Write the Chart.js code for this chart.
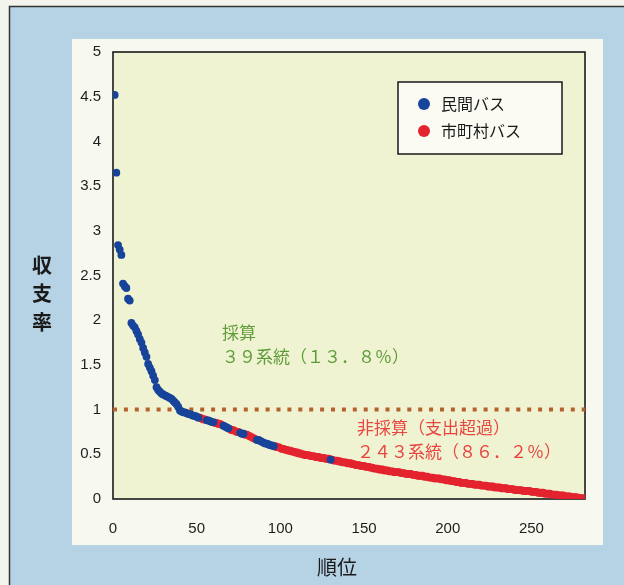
<!DOCTYPE html>
<html><head><meta charset="utf-8">
<script src="https://cdn.jsdelivr.net/npm/chart.js@4/dist/chart.umd.min.js"></script>
<style>html,body{margin:0;padding:0;background:#f4f4ee;}canvas{display:block;}</style>
</head><body>
<canvas id="c" width="624" height="585"></canvas>
<script>
// ---- data ----
const seriesNames = ['民間バス', '市町村バス'];
const xTicks = [0, 50, 100, 150, 200, 250];
const yTicks = [0, 0.5, 1, 1.5, 2, 2.5, 3, 3.5, 4, 4.5, 5];
// 収支率 by rank 1..282
const rankValues = [
 4.52,3.65,2.84,2.79,2.73,2.41,2.38,2.36,2.24,2.22,
 1.97,1.94,1.92,1.88,1.84,1.79,1.75,1.69,1.64,1.59,
 1.51,1.47,1.43,1.38,1.33,1.25,1.22,1.20,1.18,1.17,
 1.16,1.15,1.14,1.13,1.12,1.10,1.08,1.06,1.03,0.99,
 0.98,0.97,0.97,0.96,0.95,0.95,0.94,0.93,0.93,0.92,
 0.91,0.91,0.90,0.89,0.89,0.88,0.88,0.87,0.86,0.86,
 0.85,0.85,0.84,0.84,0.83,0.82,0.81,0.80,0.79,0.78,
 0.77,0.77,0.76,0.75,0.75,0.74,0.73,0.73,0.72,0.72,
 0.71,0.70,0.69,0.68,0.67,0.66,0.66,0.65,0.64,0.63,
 0.62,0.62,0.61,0.60,0.60,0.59,0.59,0.58,0.58,0.57,
 0.56,0.56,0.55,0.55,0.54,0.54,0.53,0.53,0.52,0.52,
 0.51,0.51,0.50,0.50,0.49,0.49,0.49,0.48,0.48,0.48,
 0.47,0.47,0.47,0.46,0.46,0.46,0.45,0.45,0.45,0.44,
 0.44,0.43,0.43,0.43,0.42,0.42,0.41,0.41,0.41,0.40,
 0.40,0.40,0.39,0.39,0.38,0.38,0.38,0.37,0.37,0.37,
 0.36,0.36,0.36,0.35,0.35,0.34,0.34,0.34,0.33,0.33,
 0.33,0.32,0.32,0.32,0.31,0.31,0.31,0.30,0.30,0.30,
 0.30,0.29,0.29,0.29,0.28,0.28,0.28,0.28,0.27,0.27,
 0.27,0.26,0.26,0.26,0.26,0.25,0.25,0.25,0.24,0.24,
 0.24,0.23,0.23,0.23,0.23,0.22,0.22,0.22,0.21,0.21,
 0.21,0.20,0.20,0.20,0.19,0.19,0.19,0.18,0.18,0.18,
 0.18,0.17,0.17,0.17,0.17,0.16,0.16,0.16,0.16,0.15,
 0.15,0.15,0.15,0.14,0.14,0.14,0.14,0.13,0.13,0.13,
 0.13,0.12,0.12,0.12,0.12,0.11,0.11,0.11,0.11,0.10,
 0.10,0.10,0.10,0.10,0.09,0.09,0.09,0.09,0.09,0.08,
 0.08,0.08,0.08,0.07,0.07,0.07,0.07,0.06,0.06,0.06,
 0.06,0.05,0.05,0.05,0.05,0.04,0.04,0.04,0.04,0.03,
 0.03,0.03,0.03,0.02,0.02,0.02,0.02,0.01,0.01,0.01,0.01,0.00
];
// ranks operated by private companies (民間バス); all others are 市町村バス
const privateRanks = [
 1,2,3,4,5,6,7,8,9,10,11,12,13,14,15,16,17,18,19,20,
 21,22,23,24,25,26,27,28,29,30,31,32,33,34,35,36,37,38,39,40,
 41,42,43,44,45,46,47,48,49,50,51,
 56,57,58,59,60,
 66,67,68,69,
 76,77,78,
 86,87,88,89,90,91,92,93,94,95,96,
 130
];
const breakEven = 1;

// ---- build datasets ----
const privSet = new Set(privateRanks);
const privPts = [], muniPts = [];
rankValues.forEach((v, i) => {
  const r = i + 1;
  (privSet.has(r) ? privPts : muniPts).push({x: r, y: v});
});

const BLUE = '#17449a', RED = '#e3232f';
const tickFont = {family: "'Liberation Sans Narrow','Liberation Sans',Arial,sans-serif", size: 15};

const decor = {
  id: 'decor',
  beforeDraw(chart) {
    const ctx = chart.ctx, a = chart.chartArea;
    ctx.save();
    ctx.fillStyle = '#f4f4ee';
    ctx.fillRect(0, 0, 624, 585);
    ctx.fillStyle = '#b6d3e5';
    ctx.fillRect(9, 6, 615, 579);
    ctx.strokeStyle = '#333';
    ctx.lineWidth = 1.5;
    ctx.beginPath();
    ctx.moveTo(9.5, 585); ctx.lineTo(9.5, 6.5); ctx.lineTo(624, 6.5);
    ctx.stroke();
    ctx.fillStyle = '#f7f8f0';
    ctx.fillRect(72, 39, 531, 506);
    ctx.fillStyle = '#f0f3d2';
    ctx.fillRect(a.left, a.top, a.right - a.left, a.bottom - a.top);
    ctx.restore();
  },
  beforeDatasetsDraw(chart) {
    const ctx = chart.ctx, a = chart.chartArea;
    const ys = chart.scales.y;
    ctx.save();
    // plot frame
    ctx.strokeStyle = '#1a1a1a';
    ctx.lineWidth = 1.6;
    ctx.strokeRect(a.left, a.top, a.right - a.left, a.bottom - a.top);
    // break-even dotted line
    const yb = ys.getPixelForValue(breakEven);
    ctx.strokeStyle = '#b5612b';
    ctx.lineWidth = 4;
    ctx.setLineDash([4, 6.9]);
    ctx.beginPath();
    ctx.moveTo(a.left, yb); ctx.lineTo(a.right, yb);
    ctx.stroke();
    ctx.setLineDash([]);
    // annotations
    ctx.font = "17px 'Noto Sans CJK JP', sans-serif";
    ctx.textBaseline = 'middle';
    ctx.textAlign = 'left';
    ctx.fillStyle = '#5e9c3a';
    ctx.fillText('採算', 222, 333);
    ctx.fillText('３９系統（１３．８％）', 222, 357);
    ctx.fillStyle = '#e8453e';
    ctx.fillText('非採算（支出超過）', 357, 428);
    ctx.fillText('２４３系統（８６．２％）', 357, 452);
    ctx.restore();
  },
  afterDraw(chart) {
    const ctx = chart.ctx;
    ctx.save();
    // legend
    ctx.fillStyle = '#fbfbf3';
    ctx.fillRect(398, 82, 164, 72);
    ctx.strokeStyle = '#1a1a1a';
    ctx.lineWidth = 1.5;
    ctx.strokeRect(398, 82, 164, 72);
    const items = [[seriesNames[0], BLUE, 104], [seriesNames[1], RED, 131]];
    ctx.font = "16px 'Noto Sans CJK JP', sans-serif";
    ctx.textBaseline = 'middle';
    ctx.textAlign = 'left';
    items.forEach(([t, c, y]) => {
      ctx.fillStyle = c;
      ctx.beginPath(); ctx.arc(424, y, 6, 0, Math.PI * 2); ctx.fill();
      ctx.fillStyle = '#1a1a1a';
      ctx.fillText(t, 441, y);
    });
    // axis titles
    ctx.font = "bold 20px 'Noto Sans CJK JP', sans-serif";
    ctx.textAlign = 'center';
    ctx.fillStyle = '#1a1a1a';
    ['収', '支', '率'].forEach((ch, i) => ctx.fillText(ch, 42, 265 + i * 28.5));
    ctx.font = "20px 'Noto Sans CJK JP', sans-serif";
    ctx.fillText('順位', 337, 567);
    ctx.restore();
  }
};

new Chart(document.getElementById('c'), {
  type: 'scatter',
  data: {
    datasets: [
      {label: seriesNames[0], data: privPts, backgroundColor: BLUE, borderColor: BLUE, pointRadius: 3.9, borderWidth: 0},
      {label: seriesNames[1], data: muniPts, backgroundColor: RED, borderColor: RED, pointRadius: 3.9, borderWidth: 0}
    ]
  },
  options: {
    responsive: false,
    animation: false,
    events: [],
    layout: {padding: {left: 0, top: 52, right: 39, bottom: 0}},
    plugins: {legend: {display: false}, tooltip: {enabled: false}},
    scales: {
      x: {
        type: 'linear', min: 0, max: 282,
        afterFit(s) { s.height = 86; },
        grid: {display: false, drawTicks: false},
        border: {display: false},
        ticks: {stepSize: 50, includeBounds: false, padding: 21, color: '#1e1e1e', font: tickFont,
                callback: v => xTicks.includes(v) ? String(v) : null}
      },
      y: {
        type: 'linear', min: 0, max: 5,
        afterFit(s) { s.width = 113; },
        grid: {display: false, drawTicks: false},
        border: {display: false},
        ticks: {stepSize: 0.5, padding: 12, color: '#1e1e1e', font: tickFont,
                callback: v => yTicks.includes(v) ? String(v) : null}
      }
    }
  },
  plugins: [decor]
});
</script>
</body></html>
